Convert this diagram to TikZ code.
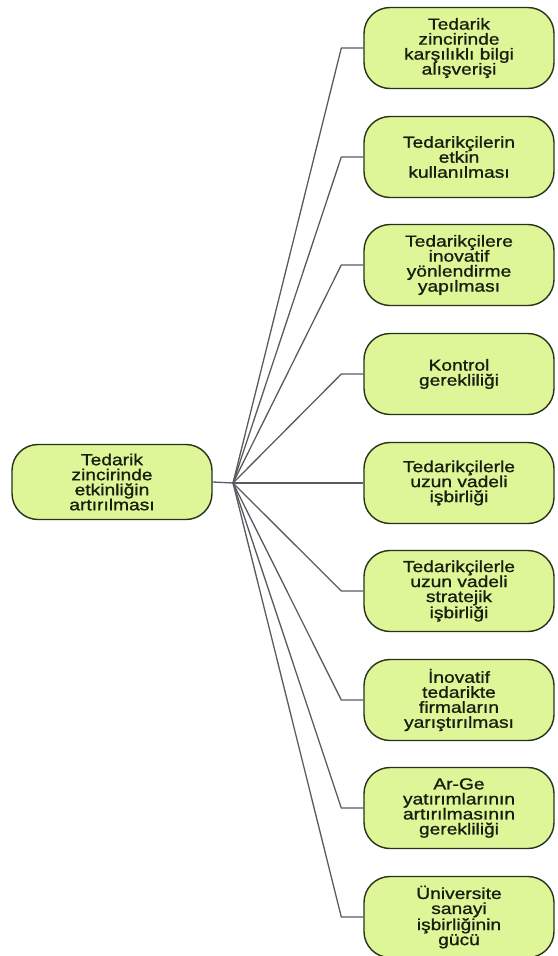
\documentclass[tikz,border=0pt]{standalone}
\usepackage{fontspec}
\setmainfont{Liberation Sans}[FakeStretch=1.2, FakeBold=1.0]
\definecolor{leaf}{RGB}{222,245,152}
\definecolor{rim}{RGB}{38,50,26}
\definecolor{wire}{RGB}{88,92,96}
\definecolor{ink}{RGB}{22,30,14}
\begin{document}
\begin{tikzpicture}[x=1pt,y=-1pt,
  topic/.style={draw=rim, fill=leaf, line width=1.4pt, rounded corners=26pt,
    minimum width=190pt, minimum height=81pt, inner sep=0pt, align=center,
    font=\fontsize{16}{15}\selectfont, text=ink},
  link/.style={draw=wire, line width=1.3pt}
]
\useasboundingbox (0,0) rectangle (557,956);

% central topic and the hub its branches fan out from
\node[topic, minimum width=200pt, minimum height=75pt] (root) at (112,482)
  {Tedarik\\zincirinde\\etkinliğin\\artırılması};
\coordinate (hub) at (233,483);
\draw[link] (root.east) -- (hub);

% branch topics
\node[topic] (t1) at (459,48)  {Tedarik\\zincirinde\\karşılıklı bilgi\\alışverişi};
\node[topic] (t2) at (459,157) {Tedarikçilerin\\etkin\\kullanılması};
\node[topic] (t3) at (459,265) {Tedarikçilere\\inovatif\\yönlendirme\\yapılması};
\node[topic] (t4) at (459,374) {Kontrol\\gerekliliği};
\node[topic] (t5) at (459,483) {Tedarikçilerle\\uzun vadeli\\işbirliği};
\node[topic] (t6) at (459,591) {Tedarikçilerle\\uzun vadeli\\stratejik\\işbirliği};
\node[topic] (t7) at (459,700) {İnovatif\\tedarikte\\firmaların\\yarıştırılması};
\node[topic] (t8) at (459,808) {Ar-Ge\\yatırımlarının\\artırılmasının\\gerekliliği};
\node[topic] (t9) at (459,917) {Üniversite\\sanayi\\işbirliğinin\\gücü};

% elbow connectors: slanted run from the hub, short level run into each topic
\foreach \t in {t1,t2,t3,t4,t6,t7,t8,t9}
  \draw[link, line join=round] (hub) -- ([xshift=-22pt]\t.west) -- (\t.west);
\draw[link] (hub) -- (t5.west);
\end{tikzpicture}
\end{document}
